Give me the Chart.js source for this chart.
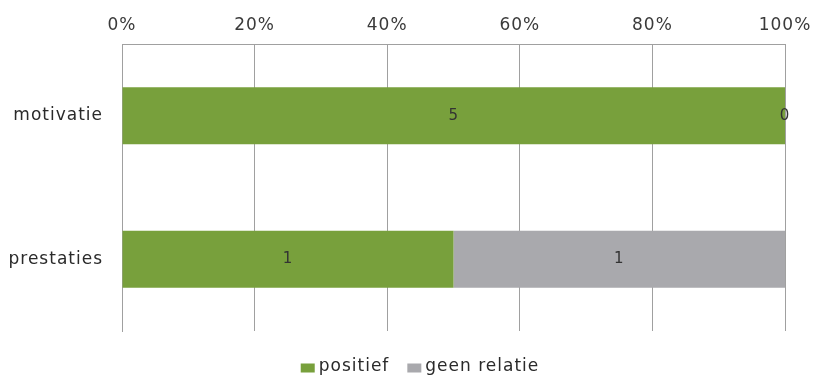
<!DOCTYPE html>
<html>
<head>
<meta charset="utf-8">
<script src="https://cdn.jsdelivr.net/npm/chart.js@4/dist/chart.umd.min.js"></script>
<style>
  html, body { margin: 0; padding: 0; background: #fff; }
  #wrap { width: 814px; height: 378px; }
</style>
</head>
<body>
<div id="wrap"><canvas id="c" width="814" height="378"></canvas></div>
<script>
// Categories and counts per relation type
const categories = ['motivatie', 'prestaties'];
const positief = [5, 1];
const geenRelatie = [0, 1];
const tickLabels = ['0%', '20%', '40%', '60%', '80%', '100%'];

const seriesNames = ['positief', 'geen relatie'];
const seriesCounts = [positief, geenRelatie];
const seriesColors = ['#78a03c', '#a9a9ad'];

// Share of each count within its category (100% stacked)
const totals = categories.map((_, i) => seriesCounts.reduce((s, arr) => s + arr[i], 0));
const toPct = arr => arr.map((v, i) => totals[i] ? v / totals[i] * 100 : 0);

const FONT = '"DejaVu Sans", sans-serif';

// Slightly spaced-out lettering for all chart text
const spacing = {
  id: 'spacing',
  beforeUpdate(chart) { chart.ctx.letterSpacing = '1px'; },
  beforeDraw(chart) { chart.ctx.letterSpacing = '1px'; }
};

// Writes the raw count in the middle of every bar segment
const countLabels = {
  id: 'countLabels',
  afterDatasetsDraw(chart) {
    const ctx = chart.ctx;
    ctx.save();
    ctx.font = '15px ' + FONT;
    ctx.fillStyle = '#333333';
    ctx.textAlign = 'center';
    ctx.textBaseline = 'middle';
    chart.data.datasets.forEach((ds, di) => {
      const meta = chart.getDatasetMeta(di);
      meta.data.forEach((bar, i) => {
        const cx = (bar.x + bar.base) / 2;
        ctx.fillText(String(ds.counts[i]), cx, bar.y);
      });
    });
    ctx.restore();
  }
};

// Compact legend row under the plot: small square, tight gap, label
const bottomLegend = {
  id: 'bottomLegend',
  afterDraw(chart) {
    const ctx = chart.ctx;
    const box = { w: 14, h: 9, gap: 4, itemGap: 18 };
    const centerX = 420, centerY = 367;
    ctx.save();
    ctx.font = '17px ' + FONT;
    ctx.textBaseline = 'middle';
    ctx.textAlign = 'left';
    const items = chart.data.datasets.map(ds => ({
      text: ds.label,
      color: ds.backgroundColor,
      w: ctx.measureText(ds.label).width
    }));
    const total = items.reduce((s, it) => s + box.w + box.gap + it.w, 0) + box.itemGap * (items.length - 1);
    let x = centerX - total / 2;
    items.forEach(it => {
      ctx.fillStyle = it.color;
      ctx.fillRect(x, centerY - box.h / 2 + 1, box.w, box.h);
      x += box.w + box.gap;
      ctx.fillStyle = '#2a2a2a';
      ctx.fillText(it.text, x, centerY);
      x += it.w + box.itemGap;
    });
    ctx.restore();
  }
};

new Chart(document.getElementById('c'), {
  type: 'bar',
  data: {
    labels: categories,
    datasets: seriesNames.map((name, k) => ({
      label: name,
      data: toPct(seriesCounts[k]),
      counts: seriesCounts[k],
      backgroundColor: seriesColors[k],
      borderWidth: 0,
      barPercentage: 0.66,
      categoryPercentage: 0.6
    }))
  },
  options: {
    indexAxis: 'y',
    responsive: false,
    animation: false,
    layout: { padding: { left: 0, right: 29, top: 0, bottom: 47 } },
    scales: {
      x: {
        position: 'top',
        stacked: true,
        min: 0,
        max: 100,
        afterBuildTicks(axis) {
          axis.ticks = tickLabels.map(t => ({ value: parseFloat(t) }));
        },
        afterFit(axis) {
          axis.height = 44;
          axis.paddingLeft = 0;
          axis.paddingRight = 0;
        },
        ticks: {
          callback: (v, i) => tickLabels[i],
          font: { family: FONT, size: 17 },
          color: '#3a3a3a',
          padding: 8,
          maxRotation: 0
        },
        grid: { color: '#a0a0a0', lineWidth: 1, drawTicks: false },
        border: { color: '#a0a0a0' }
      },
      y: {
        stacked: true,
        afterFit(axis) { axis.width = 122; },
        ticks: {
          font: { family: FONT, size: 17 },
          color: '#2a2a2a',
          padding: 19
        },
        grid: { display: false, drawTicks: false },
        border: { color: '#a0a0a0' }
      }
    },
    plugins: {
      legend: { display: false },
      tooltip: { enabled: false }
    }
  },
  plugins: [spacing, countLabels, bottomLegend]
});
</script>
</body>
</html>
